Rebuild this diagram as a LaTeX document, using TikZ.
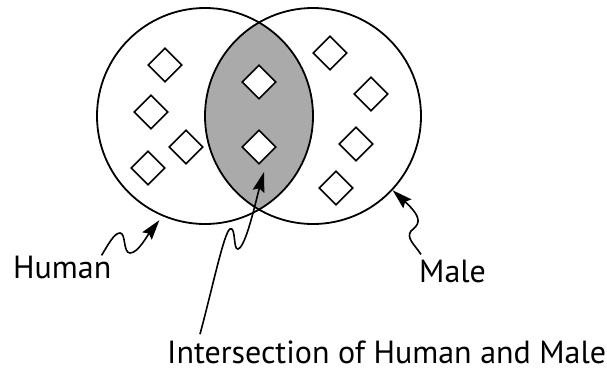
\documentclass[tikz,border=0pt]{standalone}
\usepackage{fontspec}
\setmainfont{PT Sans}
\usetikzlibrary{arrows.meta,shapes.geometric}
\definecolor{ink}     {HTML}{000000}
\definecolor{lensgray}{HTML}{AAAAAA}
\tikzset{
  setcircle/.style ={circle, draw=ink, line width=1.8pt,
                     minimum size=216pt, inner sep=0pt},
  memberbox/.style ={diamond, draw=ink, fill=white, line width=1.6pt,
                     minimum width=34pt, minimum height=34pt, inner sep=0pt},
  labeltext/.style ={font=\fontsize{32}{38}\selectfont, text=ink,
                     inner sep=0pt, anchor=base west},
  wavearr/.style   ={-{Stealth[length=20pt,width=12pt,inset=3pt]},
                     line width=1.6pt, draw=ink},
}

\begin{document}
\begin{tikzpicture}[x=1pt,y=-1pt]
    \useasboundingbox (0,0) rectangle (607,373);

    % ----- shaded intersection -----
    \begin{scope}
      \clip (205,116) circle [radius=108pt];
      \fill[lensgray] (313,116) circle [radius=108pt];
    \end{scope}

    % ----- the two sets -----
    \node[setcircle] (humanset) at (205,116) {};
    \node[setcircle] (maleset)  at (313,116) {};

    % ----- members: human only -----
    \node[memberbox] (h1) at (165,65)  {};
    \node[memberbox] (h2) at (151,112) {};
    \node[memberbox] (h3) at (186,147) {};
    \node[memberbox] (h4) at (148,168) {};

    % ----- members: both -----
    \node[memberbox] (b1) at (259,82)  {};
    \node[memberbox] (b2) at (259,147) {};

    % ----- members: male only -----
    \node[memberbox] (m1) at (330,53)  {};
    \node[memberbox] (m2) at (371,94)  {};
    \node[memberbox] (m3) at (356,144) {};
    \node[memberbox] (m4) at (336,188) {};

    % ----- labels -----
    \node[labeltext] (human) at (13,278)  {Human};
    \node[labeltext] (male)  at (419,282) {Male};
    \node[labeltext] (inter) at (167,363) {Intersection of Human and Male};

    \coordinate (intertip) at (264,172);

    % ----- wavy pointers -----
    \draw[wavearr,shorten >=5pt] ([xshift=-10pt]human.north east)
      .. controls (108,245) and (114,233) .. (120,233)
      .. controls (126,233) and (123,253) .. (130,253)
      .. controls (138,253) and (147,236) .. (humanset.-113);

    \draw[wavearr] ([shift={(2pt,5pt)}]male.north west)
      .. controls (414,244) and (406,238) .. (411,231)
      .. controls (418,225) and (425,220) .. (maleset.-43);

    \draw[wavearr] ([shift={(33pt,6pt)}]inter.north west)
      .. controls (212,290) and (224,232) .. (230,229)
      .. controls (236,226) and (233,250) .. (238,249)
      .. controls (246,247) and (256,200) .. (intertip);
\end{tikzpicture}
\end{document}
